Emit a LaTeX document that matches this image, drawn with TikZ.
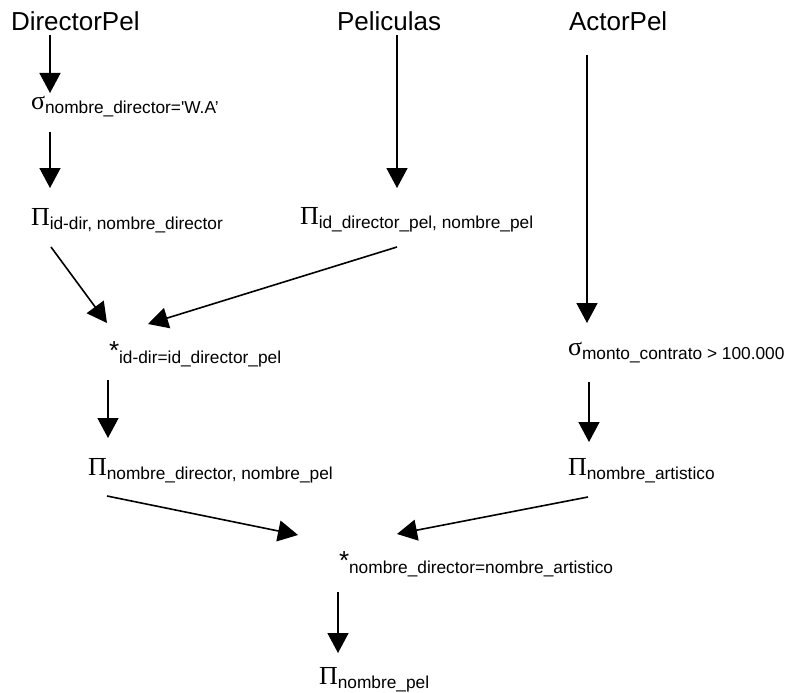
\documentclass[tikz,border=0pt]{standalone}
\usepackage{fontspec}
\usetikzlibrary{arrows.meta}
\newfontfamily\arfont{Liberation Sans}
\newfontfamily\tmfont{Liberation Serif}
\newcommand\lsub[1]{\raisebox{-4pt}{\fontsize{17.3}{20}\selectfont #1}}
\newcommand\gop[1]{{\tmfont #1}}
\tikzset{
  lbl/.style={anchor=base west, inner sep=0pt, outer sep=0pt, font=\arfont\fontsize{26}{30}\selectfont},
  arr/.style={line width=1.6pt, -{Triangle[length=20pt,width=21pt]}}
}
\begin{document}
\begin{tikzpicture}[x=1pt,y=-1pt]
\useasboundingbox (0,0) rectangle (788,693);
% nodes
\node[lbl] (dp) at (11,31) {DirectorPel};
\node[lbl] (pel) at (337,31) {Peliculas};
\node[lbl] (ap) at (569,31) {ActorPel};
\node[lbl] (s1) at (31,110) {\gop{σ}\lsub{nombre\_director='W.A’}};
\node[lbl] (p1) at (31,225) {\gop{Π}\lsub{id-dir, nombre\_director}};
\node[lbl] (p2) at (300,224) {\gop{Π}\lsub{id\_director\_pel, nombre\_pel}};
\node[lbl] (j1) at (109,359) {*\lsub{id-dir=id\_director\_pel}};
\node[lbl] (s2) at (568,355) {\gop{σ}\lsub{monto\_contrato > 100.000}};
\node[lbl] (p3) at (88,475) {\gop{Π}\lsub{nombre\_director, nombre\_pel}};
\node[lbl] (p4) at (568,475) {\gop{Π}\lsub{nombre\_artistico}};
\node[lbl] (j2) at (339,569) {*\lsub{nombre\_director=nombre\_artistico}};
\node[lbl] (p5) at (319,684) {\gop{Π}\lsub{nombre\_pel}};
% connector ends
\coordinate (a1s) at (50,35);   \coordinate (a1e) at (50,93);
\coordinate (a2s) at (50,132);  \coordinate (a2e) at (50,188);
\coordinate (a3s) at (397,35);  \coordinate (a3e) at (397,188);
\coordinate (a4s) at (587,55);  \coordinate (a4e) at (587,323);
\coordinate (a5s) at (51,247);  \coordinate (a5e) at (107,323);
\coordinate (a6s) at (397,247); \coordinate (a6e) at (148,324);
\coordinate (a7s) at (108,380); \coordinate (a7e) at (108,438);
\coordinate (a8s) at (589,382); \coordinate (a8e) at (589,442);
\coordinate (a9s) at (107,496); \coordinate (a9e) at (298,535);
\coordinate (a10s) at (588,497); \coordinate (a10e) at (397,534);
\coordinate (a11s) at (338,592); \coordinate (a11e) at (338,653);
% connectors
\draw[arr] (a1s) -- (a1e);
\draw[arr] (a2s) -- (a2e);
\draw[arr] (a3s) -- (a3e);
\draw[arr] (a4s) -- (a4e);
\draw[arr] (a5s) -- (a5e);
\draw[arr] (a6s) -- (a6e);
\draw[arr] (a7s) -- (a7e);
\draw[arr] (a8s) -- (a8e);
\draw[arr] (a9s) -- (a9e);
\draw[arr] (a10s) -- (a10e);
\draw[arr] (a11s) -- (a11e);
\end{tikzpicture}
\end{document}
